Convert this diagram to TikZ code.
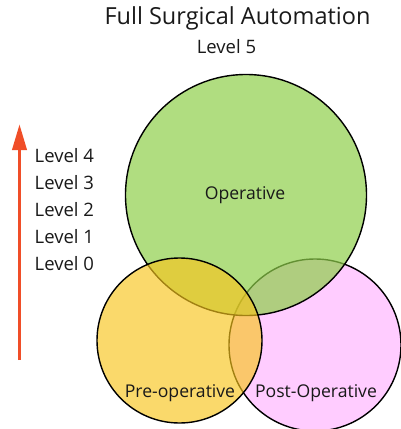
\documentclass[tikz,border=0pt]{standalone}
\usepackage{fontspec}
\setmainfont{Open Sans}
\usetikzlibrary{arrows.meta}
\definecolor{gfill}{RGB}{142,206,74}
\definecolor{yfill}{RGB}{248,197,28}
\definecolor{pfill}{RGB}{255,204,255}
\definecolor{arrowred}{RGB}{240,78,40}
\definecolor{txt}{RGB}{25,25,25}
\tikzset{
  venn/.style={circle, draw=black, line width=1.4pt, inner sep=0pt},
  lbl/.style={text=txt, font=\fontsize{17.6}{20}\selectfont, inner sep=0pt},
  lvl/.style={text=txt, font=\fontsize{18.5}{21}\selectfont, inner sep=0pt, anchor=west},
  ttl/.style={text=txt, font=\fontsize{23.5}{27}\selectfont, inner sep=0pt}
}
\begin{document}
\begin{tikzpicture}[x=1pt,y=-1pt]
\useasboundingbox (0,0) rectangle (401,429);
% circles: pink under green under yellow
\node[venn, fill=pfill, minimum size=172pt] (post) at (315,345) {};
\node[venn, fill=gfill, fill opacity=0.7, minimum size=241pt] (op) at (246,195) {};
\node[venn, fill=yfill, fill opacity=0.65, minimum size=165pt] (pre) at (179.5,340.5) {};
% labels
\node[lbl] (optxt) at (245,195) {Operative};
\node[lbl] (pretxt) at (180,393) {Pre-operative};
\node[lbl] (posttxt) at (316,393) {Post-Operative};
\node[ttl] (title) at (237.5,18) {Full Surgical Automation};
\node[lvl, anchor=center] (l5) at (226.5,47) {Level 5};
\node[lvl] (l4) at (34.5,156) {Level 4};
\node[lvl] (l3) at (34.5,182.5) {Level 3};
\node[lvl] (l2) at (34.5,209.5) {Level 2};
\node[lvl] (l1) at (34.5,237) {Level 1};
\node[lvl] (l0) at (34.5,264) {Level 0};
% arrow
\coordinate (abot) at (19.5,360);
\coordinate (atop) at (19.5,124);
\draw[arrowred, line width=3.8pt, -{Triangle[length=26pt,width=14pt]}] (abot) -- (atop);
\end{tikzpicture}
\end{document}
